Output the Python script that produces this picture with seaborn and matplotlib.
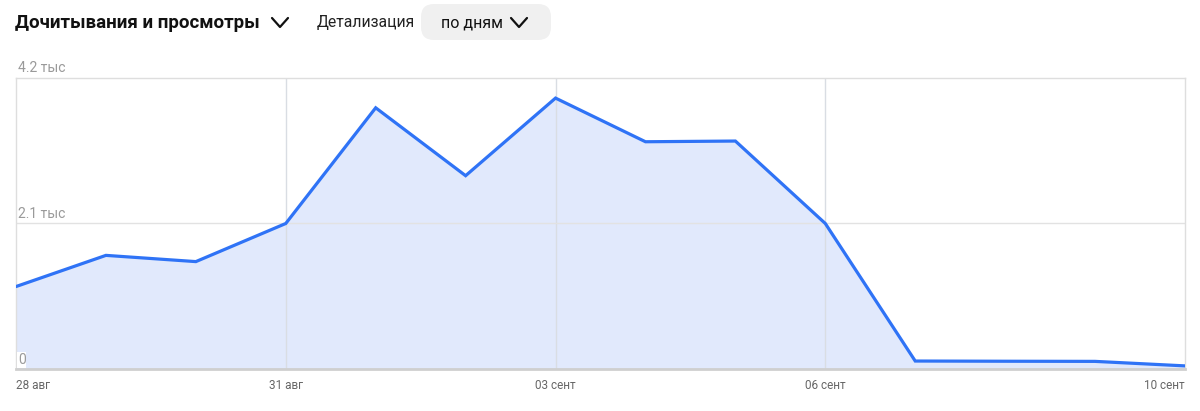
import matplotlib
matplotlib.use("Agg")
import matplotlib.pyplot as plt
import seaborn as sns
import pandas as pd
from matplotlib.patches import FancyBboxPatch
from matplotlib.lines import Line2D
import matplotlib.transforms as mtrans

# ---- data ----
days = ["28 авг", "29 авг", "30 авг", "31 авг", "01 сент", "02 сент", "03 сент",
        "04 сент", "05 сент", "06 сент", "07 сент", "08 сент", "09 сент", "10 сент"]
values = [1190, 1640, 1550, 2100, 3770, 2790, 3910, 3280, 3290, 2100, 115, 112, 110, 45]
tick_days = ["28 авг", "31 авг", "03 сент", "06 сент", "10 сент"]
y_ticks = [0, 2100, 4200]
y_labels = ["0", "2.1 тыс", "4.2 тыс"]

df = pd.DataFrame({"idx": range(len(days)), "day": days, "value": values})

sns.set_theme(style="white")
plt.rcParams["font.family"] = ["Roboto", "DejaVu Sans"]

W, H = 1200, 411
fig = plt.figure(figsize=(W / 100, H / 100), dpi=100)
ax = fig.add_axes([16 / W, (H - 369) / H, (1185 - 16) / W, (369 - 78) / H])

LINE = "#2f73f6"
FILL = "#e1e9fc"

ax.fill_between(df["idx"], df["value"], 0, color=FILL, lw=0, zorder=1)
sns.lineplot(data=df, x="idx", y="value", ax=ax, color=LINE, lw=2.3, zorder=3,
             solid_joinstyle="miter")

ax.set_xlim(0, len(days) - 1)
ax.set_ylim(0, 4200)

# gridlines
tick_pos = [days.index(d) for d in tick_days]
for p in tick_pos[1:-1]:
    ax.axvline(p, color="#d9dde3", lw=1, zorder=2)
ax.axhline(2100, color="#e2e2e2", lw=1, zorder=2)

for s in ["top", "left", "right"]:
    ax.spines[s].set_color("#dedede")
    ax.spines[s].set_linewidth(1)
ax.spines["bottom"].set_color("#cfcfcf")
ax.spines["bottom"].set_linewidth(2)

ax.set_xticks(tick_pos)
ax.set_xticklabels(tick_days, fontsize=8.5, color="#666666")
ax.tick_params(axis="x", length=0, pad=7)
labs = ax.get_xticklabels()
labs[0].set_ha("left")
labs[-1].set_ha("right")
ax.set_yticks([])
ax.set_xlabel("")
ax.set_ylabel("")

# y labels inside
blend = mtrans.blended_transform_factory(ax.transAxes, ax.transData)
for v, lab in zip(y_ticks, y_labels):
    off = mtrans.offset_copy(blend, fig=fig, x=2, y=3 if v > 0 else 2, units="dots")
    t = ax.text(0, v, lab, transform=off, ha="left", va="bottom", fontsize=10,
                color="#9a9a9a", zorder=5)
    if v == 0:
        t.set_bbox(dict(facecolor="white", edgecolor="none", pad=0.5))

# header
fig.text(15 / W, 1 - 23 / H, "Дочитывания и просмотры", fontsize=13.5, fontweight="bold",
         color="#111111", ha="left", va="center")
fig.text(317 / W, 1 - 23 / H, "Детализация", fontsize=11.3, color="#222222",
         ha="left", va="center")

pill = FancyBboxPatch((421, H - 40), 130, 36, boxstyle="round,pad=0,rounding_size=13",
                      transform=None, facecolor="#f0f0f0", edgecolor="none")
fig.patches.append(pill)
fig.text(441 / W, 1 - 23 / H, "по дням", fontsize=11.5, color="#111111",
         ha="left", va="center")

def chevron(x0, y0, w, h):
    xs = [x0, x0 + w / 2, x0 + w]
    ys = [H - y0, H - (y0 + h), H - y0]
    fig.lines.append(Line2D(xs, ys, transform=None, color="#111111", lw=1.6,
                            solid_capstyle="round", solid_joinstyle="round"))

chevron(272, 18, 16, 9)
chevron(511, 18, 16, 9)

fig.savefig("out.png", dpi=100)
